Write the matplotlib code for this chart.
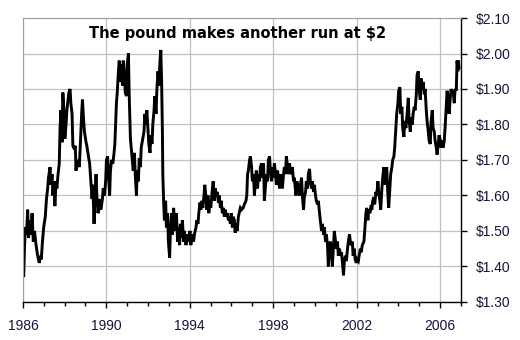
import numpy as np
import matplotlib
matplotlib.use("Agg")
import matplotlib.pyplot as plt
from matplotlib.ticker import MultipleLocator, FuncFormatter

plt.rcParams['text.parse_math'] = False

# ── Data: GBP/USD (weeks since Jan 1986) ─────────────────────────────────────
weeks = [
    0, 1, 2, 4, 6, 9, 12, 14, 18, 20, 23, 26, 29, 33, 37, 41, 44, 46, 49, 52,
    56, 59, 62, 64, 68, 70, 73, 75, 78, 80, 83, 85, 88, 91, 93, 95, 98, 100, 103, 105,
    108, 110, 113, 115, 118, 120, 123, 125, 129, 131, 133, 134, 137, 141, 144, 147, 149, 152, 154, 158,
    160, 164, 167, 170, 173, 175, 178, 180, 183, 185, 188, 190, 193, 195, 199, 201, 204, 207, 209, 212,
    214, 217, 219, 222, 225, 228, 230, 234, 236, 239, 241, 244, 246, 249, 251, 254, 256, 259, 261, 264,
    266, 269, 271, 274, 276, 279, 281, 284, 286, 289, 291, 294, 296, 299, 303, 305, 308, 310, 313, 315,
    318, 320, 323, 325, 328, 330, 333, 335, 338, 340, 343, 345, 347, 349, 350, 352, 354, 357, 359, 362,
    364, 367, 369, 372, 374, 377, 379, 382, 384, 387, 389, 392, 394, 397, 399, 402, 404, 408, 411, 414,
    418, 420, 424, 427, 429, 433, 435, 438, 440, 443, 445, 448, 450, 453, 455, 458, 460, 463, 465, 468,
    470, 474, 476, 479, 481, 484, 486, 489, 491, 494, 496, 499, 501, 504, 506, 509, 511, 514, 516, 519,
    521, 524, 526, 529, 531, 534, 536, 539, 541, 544, 547, 551, 554, 558, 560, 562, 564, 567, 569, 572,
    574, 577, 579, 582, 584, 587, 589, 592, 594, 597, 599, 602, 604, 607, 609, 612, 614, 617, 619, 622,
    624, 627, 629, 632, 634, 637, 639, 642, 644, 647, 649, 652, 654, 657, 659, 662, 664, 667, 669, 672,
    674, 677, 679, 683, 686, 689, 692, 694, 697, 699, 702, 704, 707, 709, 712, 714, 717, 719, 722, 724,
    727, 729, 732, 734, 737, 739, 742, 744, 747, 749, 752, 754, 757, 759, 762, 764, 767, 769, 772, 774,
    777, 779, 782, 784, 787, 789, 792, 794, 797, 799, 802, 804, 807, 809, 812, 814, 817, 820, 824, 826,
    829, 831, 834, 836, 839, 841, 844, 846, 849, 853, 855, 858, 860, 863, 865, 868, 870, 873, 875, 878,
    880, 883, 885, 888, 890, 893, 895, 898, 900, 903, 905, 908, 910, 913, 915, 918, 920, 923, 925, 928,
    930, 933, 935, 938, 940, 943, 945, 948, 950, 953, 955, 958, 961, 964, 966, 969, 971, 974, 976, 979,
    981, 984, 986, 989, 991, 994, 996, 999, 1001, 1004, 1006, 1009, 1011, 1014, 1016, 1019, 1021, 1024, 1026, 1029,
    1031, 1034, 1036, 1039, 1041, 1044, 1046, 1049, 1051, 1054, 1056, 1059, 1061, 1064, 1066, 1069, 1071, 1074, 1076, 1079,
    1081, 1084, 1086, 1088, 1089, 1091,
]
rate = [
    1.47, 1.39, 1.37, 1.45, 1.51, 1.49, 1.56, 1.48, 1.53, 1.49, 1.55, 1.47, 1.50, 1.46, 1.43, 1.41, 1.43, 1.42, 1.47, 1.51,
    1.54, 1.59, 1.62, 1.65, 1.68, 1.63, 1.66, 1.60, 1.64, 1.57, 1.64, 1.62, 1.66, 1.69, 1.79, 1.84, 1.75, 1.89, 1.83, 1.76,
    1.80, 1.84, 1.87, 1.89, 1.90, 1.86, 1.83, 1.74, 1.73, 1.74, 1.67, 1.69, 1.70, 1.68, 1.75, 1.83, 1.87, 1.81, 1.78, 1.75,
    1.74, 1.71, 1.69, 1.64, 1.59, 1.63, 1.52, 1.59, 1.66, 1.60, 1.55, 1.57, 1.59, 1.56, 1.59, 1.62, 1.60, 1.64, 1.70, 1.71,
    1.66, 1.60, 1.67, 1.70, 1.69, 1.72, 1.745, 1.86, 1.89, 1.95, 1.98, 1.92, 1.97, 1.91, 1.98, 1.94, 1.89, 1.88, 1.97, 2.00,
    1.88, 1.76, 1.735, 1.70, 1.67, 1.72, 1.66, 1.60, 1.67, 1.64, 1.705, 1.68, 1.735, 1.755, 1.78, 1.83, 1.80, 1.84, 1.78, 1.745,
    1.72, 1.77, 1.745, 1.80, 1.84, 1.88, 1.83, 1.895, 1.95, 1.91, 1.98, 2.01, 1.92, 1.78, 1.66, 1.585, 1.53, 1.585, 1.51, 1.55,
    1.47, 1.425, 1.50, 1.55, 1.49, 1.565, 1.53, 1.50, 1.55, 1.47, 1.51, 1.46, 1.52, 1.48, 1.53, 1.47, 1.50, 1.46, 1.49, 1.47,
    1.50, 1.46, 1.49, 1.47, 1.49, 1.51, 1.53, 1.52, 1.55, 1.58, 1.56, 1.585, 1.565, 1.60, 1.63, 1.595, 1.56, 1.60, 1.55, 1.585,
    1.565, 1.62, 1.64, 1.585, 1.62, 1.60, 1.61, 1.58, 1.60, 1.565, 1.585, 1.55, 1.565, 1.54, 1.56, 1.54, 1.55, 1.53, 1.54, 1.52,
    1.55, 1.51, 1.54, 1.53, 1.495, 1.52, 1.50, 1.54, 1.55, 1.565, 1.56, 1.565, 1.575, 1.585, 1.60, 1.66, 1.67, 1.70, 1.71, 1.68,
    1.64, 1.66, 1.60, 1.64, 1.67, 1.62, 1.66, 1.64, 1.68, 1.69, 1.65, 1.69, 1.585, 1.63, 1.66, 1.64, 1.70, 1.71, 1.67, 1.64,
    1.68, 1.65, 1.69, 1.66, 1.63, 1.67, 1.65, 1.62, 1.66, 1.64, 1.62, 1.66, 1.68, 1.66, 1.71, 1.68, 1.66, 1.69, 1.67, 1.66,
    1.68, 1.64, 1.65, 1.60, 1.64, 1.62, 1.60, 1.63, 1.65, 1.60, 1.56, 1.595, 1.61, 1.64, 1.62, 1.66, 1.675, 1.64, 1.62, 1.64,
    1.61, 1.63, 1.60, 1.585, 1.575, 1.585, 1.55, 1.53, 1.50, 1.52, 1.49, 1.51, 1.47, 1.49, 1.46, 1.40, 1.45, 1.47, 1.44, 1.40,
    1.46, 1.50, 1.47, 1.45, 1.47, 1.43, 1.45, 1.43, 1.44, 1.415, 1.375, 1.415, 1.43, 1.415, 1.45, 1.47, 1.49, 1.46, 1.47, 1.43,
    1.45, 1.42, 1.41, 1.42, 1.415, 1.43, 1.45, 1.44, 1.46, 1.47, 1.50, 1.55, 1.565, 1.53, 1.56, 1.55, 1.565, 1.56, 1.585, 1.595,
    1.575, 1.61, 1.60, 1.64, 1.61, 1.585, 1.56, 1.62, 1.65, 1.68, 1.63, 1.65, 1.68, 1.60, 1.565, 1.62, 1.66, 1.68, 1.70, 1.71,
    1.735, 1.79, 1.83, 1.86, 1.895, 1.905, 1.83, 1.85, 1.79, 1.765, 1.81, 1.79, 1.83, 1.875, 1.81, 1.78, 1.82, 1.80, 1.83, 1.85,
    1.84, 1.885, 1.94, 1.95, 1.90, 1.87, 1.93, 1.90, 1.92, 1.885, 1.90, 1.84, 1.81, 1.78, 1.755, 1.745, 1.81, 1.84, 1.79, 1.78,
    1.755, 1.735, 1.715, 1.745, 1.77, 1.755, 1.735, 1.755, 1.735, 1.755, 1.79, 1.85, 1.895, 1.87, 1.83, 1.875, 1.90, 1.885, 1.895, 1.86,
    1.90, 1.895, 1.98, 1.95, 1.98, 1.96,
]

year_ticks = [1986, 1990, 1994, 1998, 2002, 2006]
title = "The pound makes another run at $2"

dates = 1986 + np.array(weeks) / 52.18

# ── Plot ─────────────────────────────────────────────────────────────────────
fig = plt.figure(figsize=(5.2, 3.4), dpi=100)
ax = fig.add_axes([0.044, 0.112, 0.8425, 0.835])

ax.plot(dates, rate, color='black', lw=2.1, solid_joinstyle='miter')

ax.set_xlim(1986, 2007)
ax.set_ylim(1.30, 2.10)

ax.set_xticks(year_ticks)
ax.set_xticklabels([str(y) for y in year_ticks])
ax.xaxis.set_minor_locator(MultipleLocator(1))
ax.yaxis.set_major_locator(MultipleLocator(0.1))
ax.yaxis.set_major_formatter(FuncFormatter(lambda v, p: "$%.2f" % v))
ax.yaxis.tick_right()

ax.grid(True, which='major', color='#c0c0c0', lw=0.9)
ax.set_axisbelow(True)

for side in ['top', 'left']:
    ax.spines[side].set_color('#a0a0a0')
for side in ['bottom', 'right']:
    ax.spines[side].set_color('black')
    ax.spines[side].set_linewidth(1.0)

lab_color = '#15153a'
ax.tick_params(axis='x', which='major', direction='out', length=4, width=1,
               pad=8, labelsize=10, labelcolor=lab_color)
ax.tick_params(axis='x', which='minor', direction='out', length=3, width=1)
ax.tick_params(axis='y', direction='out', length=4, width=1, pad=7,
               labelsize=10, labelcolor=lab_color)
for lab in ax.get_xticklabels() + ax.get_yticklabels():
    lab.set_family('Liberation Sans')

ax.text(0.49, 0.945, title, transform=ax.transAxes, ha='center', va='center',
        fontsize=10.5, fontweight='bold', family='DejaVu Sans')

plt.savefig("out.png", dpi=100)
